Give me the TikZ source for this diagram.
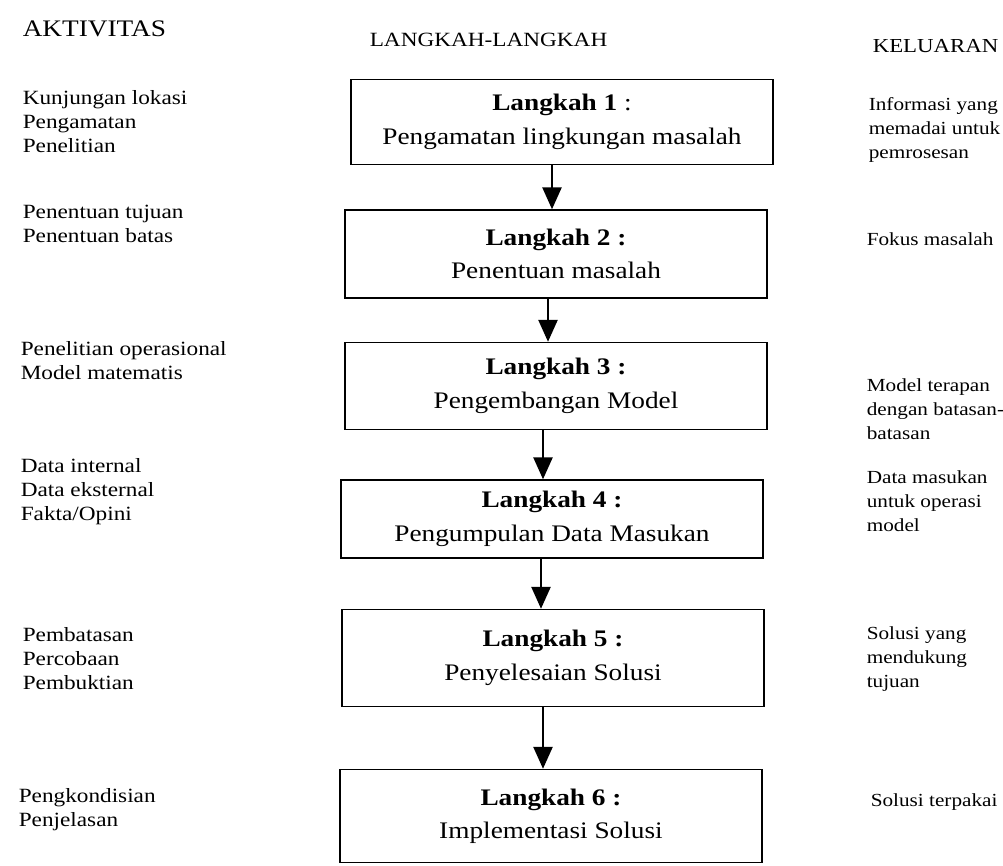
\documentclass[tikz,border=0pt]{standalone}
\usepackage{fontspec}
\setmainfont{Liberation Serif}[FakeStretch=1.15]
\usetikzlibrary{arrows.meta}

\tikzset{
  langkah/.style={draw, minimum width=8.44cm, align=center, inner sep=0pt,
    font=\fontsize{13.5}{19}\selectfont},
  judul/.style={anchor=base west, inner sep=0pt},
  aktivitas/.style={anchor=base west, align=left, inner sep=0pt,
    font=\fontsize{11.5}{13.6}\selectfont},
  keluaran/.style={anchor=base west, align=left, inner sep=0pt,
    font=\fontsize{10.5}{13.6}\selectfont},
}

\begin{document}
\begin{tikzpicture}[>={Triangle[width=11pt,length=12.5pt]}, x=0.2mm, y=-0.2mm, line width=0.9pt]
\useasboundingbox (0,0) rectangle (1003,865);

% judul kolom
\node[judul, font=\fontsize{13.5}{16}\selectfont] (hakt) at (22,36) {AKTIVITAS};
\node[judul, font=\fontsize{11.5}{16}\selectfont] (hlang) at (369,46) {LANGKAH-LANGKAH};
\node[judul, font=\fontsize{11.3}{16}\selectfont] (hkel) at (872,52) {KELUARAN};

% langkah-langkah
\node[langkah, minimum height=1.7cm] (b1) at (562,122) {\textbf{Langkah 1} :\\Pengamatan lingkungan masalah};
\node[langkah, minimum height=1.76cm] (b2) at (556,254) {\textbf{Langkah 2 :}\\Penentuan masalah};
\node[langkah, minimum height=1.74cm] (b3) at (556,386) {\textbf{Langkah 3 :}\\Pengembangan Model};
\node[langkah, minimum height=1.56cm] (b4) at (552,519) {\textbf{Langkah 4 :}\\Pengumpulan Data Masukan};
\node[langkah, minimum height=1.94cm] (b5) at (553,658) {\textbf{Langkah 5 :}\\Penyelesaian Solusi};
\node[langkah, minimum height=1.86cm] (b6) at (551,816) {\textbf{Langkah 6 :}\\Implementasi Solusi};

% panah antar langkah (tegak)
\coordinate (p1) at (552,0);
\coordinate (p2) at (548,0);
\coordinate (p3) at (543,0);
\coordinate (p4) at (541,0);
\coordinate (p5) at (543,0);
\draw[->] (p1 |- b1.south) -- (p1 |- b2.north);
\draw[->] (p2 |- b2.south) -- (p2 |- b3.north);
\draw[->] (p3 |- b3.south) -- (p3 |- b4.north);
\draw[->] (p4 |- b4.south) -- (p4 |- b5.north);
\draw[->] (p5 |- b5.south) -- (p5 |- b6.north);

% aktivitas
\node[aktivitas] (a1) at (22,152) {Kunjungan lokasi\\Pengamatan\\Penelitian};
\node[aktivitas] (a2) at (22,242) {Penentuan tujuan\\Penentuan batas};
\node[aktivitas] (a3) at (20,379) {Penelitian operasional\\Model matematis};
\node[aktivitas] (a4) at (20,520) {Data internal\\Data eksternal\\Fakta/Opini};
\node[aktivitas] (a5) at (22,689) {Pembatasan\\Percobaan\\Pembuktian};
\node[aktivitas] (a6) at (18,826) {Pengkondisian\\Penjelasan};

% keluaran
\node[keluaran] (k1) at (868,158) {Informasi yang\\memadai untuk\\pemrosesan};
\node[keluaran] (k2) at (866,245) {Fokus masalah};
\node[keluaran] (k3) at (866,439) {Model terapan\\dengan batasan-\\batasan};
\node[keluaran] (k4) at (866,531) {Data masukan\\untuk operasi\\model};
\node[keluaran] (k5) at (866,687) {Solusi yang\\mendukung\\tujuan};
\node[keluaran] (k6) at (870,806) {Solusi terpakai};
\end{tikzpicture}
\end{document}
